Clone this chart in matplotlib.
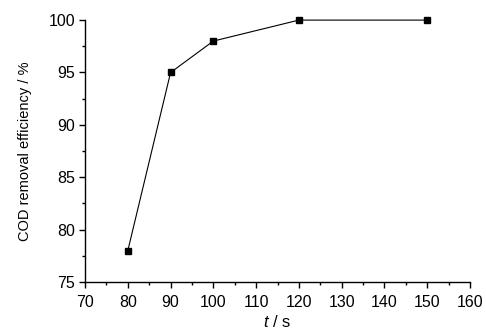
import matplotlib
matplotlib.use('Agg')
import matplotlib.pyplot as plt
from matplotlib.ticker import MultipleLocator

t_s = [80, 90, 100, 120, 150]
cod_removal = [78, 95, 98, 100, 100]

plt.rcParams['font.family'] = ['Liberation Sans', 'DejaVu Sans']
plt.rcParams['mathtext.fontset'] = 'custom'
plt.rcParams['mathtext.it'] = 'Liberation Sans:italic'

fig = plt.figure(figsize=(4.86, 3.35), dpi=100)
ax = fig.add_axes([0.175, 0.158, 0.792, 0.782])

ax.plot(t_s, cod_removal, color='black', linewidth=0.8,
        marker='s', markersize=5, markerfacecolor='black', clip_on=False)

ax.set_xlim(70, 160)
ax.set_ylim(75, 100)
ax.xaxis.set_major_locator(MultipleLocator(10))
ax.xaxis.set_minor_locator(MultipleLocator(5))
ax.yaxis.set_major_locator(MultipleLocator(5))
ax.yaxis.set_minor_locator(MultipleLocator(2.5))

for side in ('top', 'right'):
    ax.spines[side].set_visible(False)
for side in ('left', 'bottom'):
    ax.spines[side].set_linewidth(1.0)

ax.tick_params(which='major', direction='out', length=4, width=1.0, labelsize=11.5)
ax.tick_params(axis='x', which='major', pad=5)
ax.tick_params(axis='y', which='major', pad=3)
ax.tick_params(which='minor', direction='out', length=2.5, width=1.0)

ax.set_xlabel(r'$t$ / s', fontsize=12, labelpad=3)
ax.set_ylabel('COD removal efficiency / %', fontsize=10.5, labelpad=12)

fig.savefig('out.png', dpi=100)
